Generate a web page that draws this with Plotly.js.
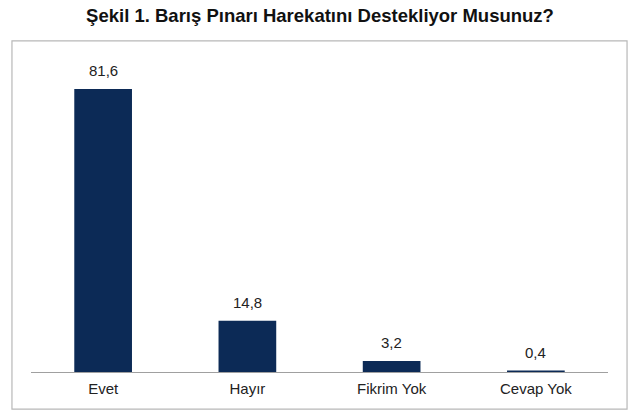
<!DOCTYPE html>
<html>
<head>
<meta charset="utf-8">
<script src="https://cdn.plot.ly/plotly-3.0.1.min.js"></script>
<style>
  html, body { margin: 0; padding: 0; background: #fff; }
  #chart { width: 640px; height: 417px; }
</style>
</head>
<body>
<div id="chart"></div>
<script>
// Survey answers and percentages
const categories = ['Evet', 'Hayır', 'Fikrim Yok', 'Cevap Yok'];
const values = [81.6, 14.8, 3.2, 0.4];
const chartTitle = 'Şekil 1. Barış Pınarı Harekatını Destekliyor Musunuz?';

const FONT = 'Liberation Sans, Arial, sans-serif';

const trace = {
  x: categories,
  y: values,
  type: 'bar',
  width: 0.4,
  marker: { color: '#0c2a56' },
  hoverinfo: 'none'
};

// value labels above bars, with decimal comma
const labels = categories.map((c, i) => ({
  x: c,
  y: values[i],
  text: values[i].toFixed(1).replace('.', ','),
  showarrow: false,
  yanchor: 'bottom',
  yshift: 8,
  font: { family: FONT, size: 15, color: '#222' }
}));

const layout = {
  width: 640,
  height: 417,
  margin: { l: 31, r: 32, t: 60, b: 45 },
  paper_bgcolor: '#fff',
  plot_bgcolor: '#fff',
  title: {
    text: '<b>' + chartTitle + '</b>',
    font: { family: FONT, size: 18.5, color: '#111' },
    x: 0.5,
    xanchor: 'center',
    y: 0.962,
    yanchor: 'middle'
  },
  xaxis: {
    showline: true,
    linecolor: '#a0a0a0',
    linewidth: 1,
    ticks: 'outside',
    ticklen: 3,
    tickcolor: 'rgba(0,0,0,0)',
    tickfont: { family: FONT, size: 15, color: '#222' },
    showgrid: false,
    zeroline: false
  },
  yaxis: {
    range: [0, 90],
    visible: false,
    showgrid: false,
    zeroline: false
  },
  annotations: labels,
  shapes: [{
    type: 'rect',
    xref: 'paper', yref: 'paper',
    x0: -0.033, x1: 1.033,
    y0: -0.119, y1: 1.061,
    line: { color: '#b8b8b8', width: 1.2 },
    fillcolor: 'rgba(0,0,0,0)',
    layer: 'below'
  }],
  showlegend: false
};

Plotly.newPlot('chart', [trace], layout, { displayModeBar: false, staticPlot: true });
</script>
</body>
</html>
